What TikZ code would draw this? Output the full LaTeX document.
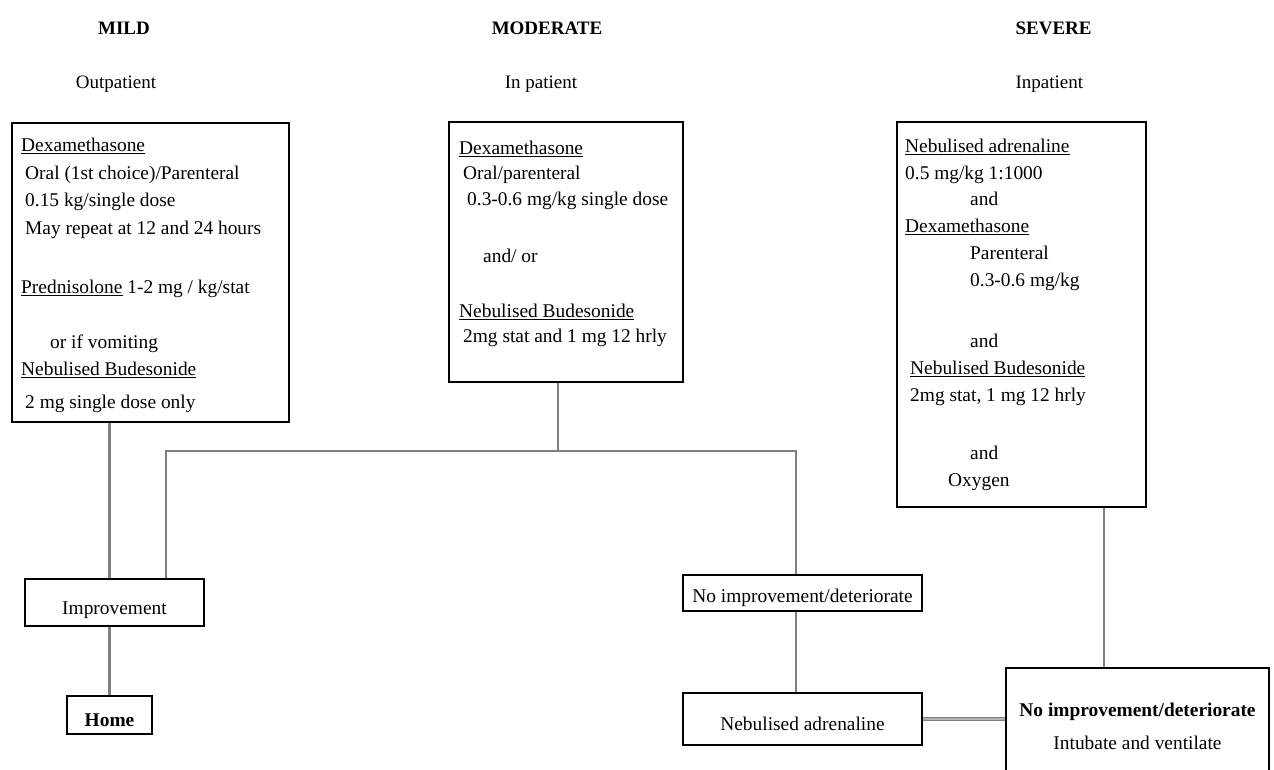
\documentclass[tikz,border=0pt]{standalone}
\usepackage{fontspec}
\setmainfont{Liberation Serif}
\usetikzlibrary{calc}

\begin{document}
\begin{tikzpicture}[x=1pt, y=-1pt, every node/.style={font=\fontsize{19.4}{26.5}\selectfont},
	panel/.style={draw, line width=1.4pt, inner sep=0pt},
	notes/.style={inner sep=0pt, anchor=north west, align=left},
	head/.style={font=\fontsize{19}{22}\selectfont\bfseries},
	care/.style={font=\fontsize{19}{22}\selectfont},
	link/.style={draw=black!50, line width=2.6pt}]
	\useasboundingbox (0,0) rectangle (1274,769);
	% column headings
	\node[head] (mildhead) at (124,28) {MILD};
	\node[head] (modhead) at (547,28) {MODERATE};
	\node[head, anchor=west] (sevhead) at (1012,28) {SEVERE};
	\node[care] (mildcare) at (116,84) {Outpatient};
	\node[care] (modcare) at (541,84) {In patient};
	\node[care, anchor=west] (sevcare) at (1012,84) {Inpatient};
	% treatment boxes
	\node[panel, minimum width=277, minimum height=299] (mildbox) at (150.5,272.5) {};
	\node[panel, minimum width=234, minimum height=260] (modbox) at (566,252) {};
	\node[panel, minimum width=249, minimum height=385] (sevbox) at (1021.5,314.5) {};
	\node[notes, font=\fontsize{19.4}{27.5}\selectfont] (mildtext) at (21,138) {\underline{Dexamethasone}\\
		\hspace*{4pt}Oral (1st choice)/Parenteral\\
		\hspace*{4pt}0.15 kg/single dose\\
		\hspace*{4pt}May repeat at 12 and 24 hours\\[31.5pt]
		\underline{Prednisolone} 1-2 mg / kg/stat\\[27.5pt]
		\hspace*{29pt}or if vomiting\\
		\underline{Nebulised Budesonide}\\[5.5pt]
		\hspace*{4pt}2 mg single dose only};
	\node[notes, font=\fontsize{19.4}{25.5}\selectfont] (modtext) at (459,140.7) {\underline{Dexamethasone}\\
		\hspace*{4pt}Oral/parenteral\\
		\hspace*{8pt}0.3-0.6 mg/kg single dose\\[31.5pt]
		\hspace*{24pt}and/ or\\[29.5pt]
		\underline{Nebulised Budesonide}\\
		\hspace*{4pt}2mg stat and 1 mg 12 hrly};
	\node[notes, font=\fontsize{19.4}{26.8}\selectfont] (sevtext) at (905,138.7) {\underline{Nebulised adrenaline}\\
		0.5 mg/kg 1:1000\\
		\hspace*{65pt}and\\
		\underline{Dexamethasone}\\
		\hspace*{65pt}Parenteral\\
		\hspace*{65pt}0.3-0.6 mg/kg\\[34.5pt]
		\hspace*{65pt}and\\
		\hspace*{5pt}\underline{Nebulised Budesonide}\\
		\hspace*{5pt}2mg stat, 1 mg 12 hrly\\[31.5pt]
		\hspace*{65pt}and\\
		\hspace*{43pt}Oxygen};
	% outcome boxes
	\node[panel, minimum width=179, minimum height=47, text height=24pt, text depth=0pt] (improve) at (114.5,602.5) {Improvement};
	\node[panel, minimum width=85, minimum height=38, text height=22pt, text depth=0pt, font=\fontsize{19.4}{26.5}\selectfont\bfseries] (home) at (109.5,715) {Home};
	\node[panel, minimum width=239, minimum height=36, text height=18pt, text depth=0pt] (noimp) at (802.5,593) {No improvement/deteriorate};
	\node[panel, minimum width=239, minimum height=52, text height=22pt, text depth=0pt] (nebadr) at (802.5,719) {Nebulised adrenaline};
	\node[panel, minimum width=263, minimum height=117, align=center, font=\fontsize{19.4}{33}\selectfont] (intubate) at (1137.5,726.5) {\textbf{No improvement/deteriorate}\\ Intubate and ventilate};
	% connectors
	\coordinate (split) at (558,451);
	\coordinate (leftend) at (166,451);
	\coordinate (rightend) at (796,451);
	\coordinate (sevdrop) at (1104,0);
	\draw[link] (mildbox.south -| home) -- (improve.north -| home);
	\draw[link] (improve.south -| home) -- (home.north);
	\draw[link] (modbox.south -| split) -- (split);
	\draw[link] (improve.north -| leftend) -- (leftend) -- (rightend) -- (noimp.north -| rightend);
	\draw[link] (noimp.south -| rightend) -- (nebadr.north -| rightend);
	\draw[link] (sevbox.south -| sevdrop) -- (intubate.north -| sevdrop);
	\draw[link, line width=1.2pt, double=black!30, double distance=1.2pt] (nebadr.east) -- (intubate.west |- nebadr.east);
\end{tikzpicture}
\end{document}
